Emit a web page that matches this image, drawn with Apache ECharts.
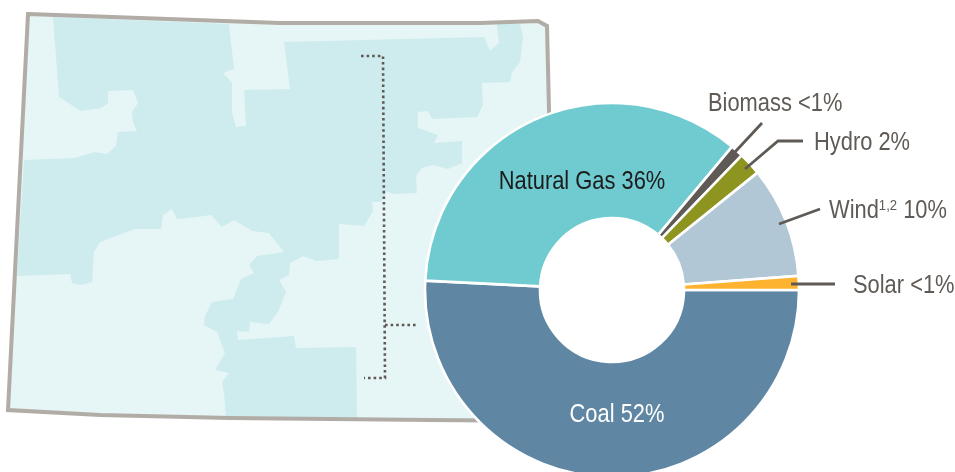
<!DOCTYPE html>
<html>
<head>
<meta charset="utf-8">
<style>html,body{margin:0;padding:0;background:#fff}#c{width:955px;height:472px}</style>
<script src="https://cdn.jsdelivr.net/npm/echarts@6/dist/echarts.min.js"></script>
</head>
<body>
<div id="c"></div>
<script>
const categories = ['Coal', 'Natural Gas', 'Biomass', 'Hydro', 'Wind', 'Solar'];
const shareValues = [50.8, 35.3, 1.1, 2.0, 9.6, 1.2];
const shareLabels = ['52%', '36%', '<1%', '2%', '10%', '<1%'];
const sliceColors = ['#5f87a3', '#6fcbcf', '#5f5a55', '#8e9420', '#b2c7d6', '#fdb32f'];
const labelColors = ['#ffffff', '#1c1c1c', '#5f5a55', '#5f5a55', '#5f5a55', '#5f5a55'];

const stateShape = [[28,14],[280,23],[480,23],[538,21],[547,26],[549,110],[549,421],[430,420],[230,418],[100,415],[8,410]];
const serviceArea = [[53,17],[229,24],[234,69],[223,73],[232,83],[232,113],[236,127],[246,126],[244,90],[290,89],[284,42],[484,37],[490,51],[499,43],[497,24],[520,24],[523,37],[520,62],[512,72],[510,82],[482,83],[483,105],[477,117],[432,119],[428,111],[418,112],[418,128],[438,135],[434,143],[462,141],[462,163],[448,169],[433,165],[422,168],[416,176],[417,193],[393,194],[387,191],[381,202],[372,202],[373,211],[364,226],[339,224],[339,259],[317,261],[303,256],[290,263],[289,275],[279,280],[286,292],[278,312],[269,324],[250,322],[249,332],[237,331],[238,340],[294,336],[296,348],[356,347],[357,418],[226,417],[224,393],[222,382],[229,373],[215,370],[225,353],[217,332],[204,325],[205,316],[212,302],[233,299],[241,279],[254,273],[249,265],[257,256],[284,252],[269,233],[252,231],[234,220],[222,227],[211,215],[197,217],[177,219],[172,209],[163,215],[161,229],[135,229],[100,242],[94,252],[92,282],[82,285],[72,283],[70,274],[17,276],[24,160],[75,158],[95,152],[107,154],[116,146],[118,132],[137,131],[133,122],[132,112],[138,103],[133,90],[108,91],[108,103],[101,108],[81,111],[59,97]];
const bracketLines = [
  [[361,56],[383,56],[385,378],[364,378]],
  [[385,325],[416,325]]
];
const leaderLines = [
  [[762,123],[735,152]],
  [[803,141],[778,141],[745,169]],
  [[820,209],[779,224]],
  [[835,284],[791,284]]
];
const labelSpots = [
  {x:617,y:415,align:'center'},
  {x:582,y:182,align:'center'},
  {x:708,y:104,align:'left'},
  {x:814,y:143,align:'left'},
  {x:829,y:211,align:'left'},
  {x:853,y:286,align:'left'}
];

const chart = echarts.init(document.getElementById('c'), null, {renderer:'canvas'});
const FONT = '"Liberation Sans",sans-serif';
const graphics = [
  {type:'polygon', z:0, silent:true, shape:{points:stateShape}, style:{fill:'#e6f5f5', stroke:null}},
  {type:'polygon', z:1, silent:true, shape:{points:serviceArea}, style:{fill:'#ceecee', stroke:null}},
  {type:'polygon', z:2, silent:true, shape:{points:stateShape}, style:{fill:'none', stroke:'#b1aca6', lineWidth:4, lineJoin:'miter'}},
  {type:'circle', z:5, silent:true, shape:{cx:612,cy:290,r:100}, style:{fill:'#ffffff', stroke:null}}
];
bracketLines.forEach(p => graphics.push({type:'polyline', z:3, silent:true, shape:{points:p},
  style:{fill:'none', stroke:'#5f5a55', lineWidth:2.6, lineDash:[2.6,3]}}));
leaderLines.forEach(p => graphics.push({type:'polyline', z:50, silent:true, shape:{points:p},
  style:{fill:'none', stroke:'#5f5a55', lineWidth:2.8}}));
categories.forEach((name,i) => {
  const s = labelSpots[i];
  graphics.push({type:'text', z:60, silent:true, x:s.x, y:s.y, scaleX:0.875, scaleY:1,
    style:{
      text: name==='Wind' ? 'Wind{sup|1,2} '+shareLabels[i] : name+' '+shareLabels[i],
      fill:labelColors[i], font:'25px '+FONT, align:s.align, verticalAlign:'middle',
      rich:{sup:{font:'15px '+FONT, fill:labelColors[i], verticalAlign:'top', lineHeight:26}}
    }});
});

chart.setOption({
  animation:false,
  graphic:{elements:graphics},
  series:[{
    type:'pie',
    z:10,
    center:[612,290],
    radius:[72,187],
    startAngle:0,
    clockwise:true,
    silent:true,
    itemStyle:{borderColor:'#ffffff', borderWidth:2.6},
    label:{show:false},
    labelLine:{show:false},
    data:categories.map((name,i)=>({
      name:name,
      value:shareValues[i],
      itemStyle:{color:sliceColors[i]}
    }))
  }]
});
</script>
</body>
</html>
